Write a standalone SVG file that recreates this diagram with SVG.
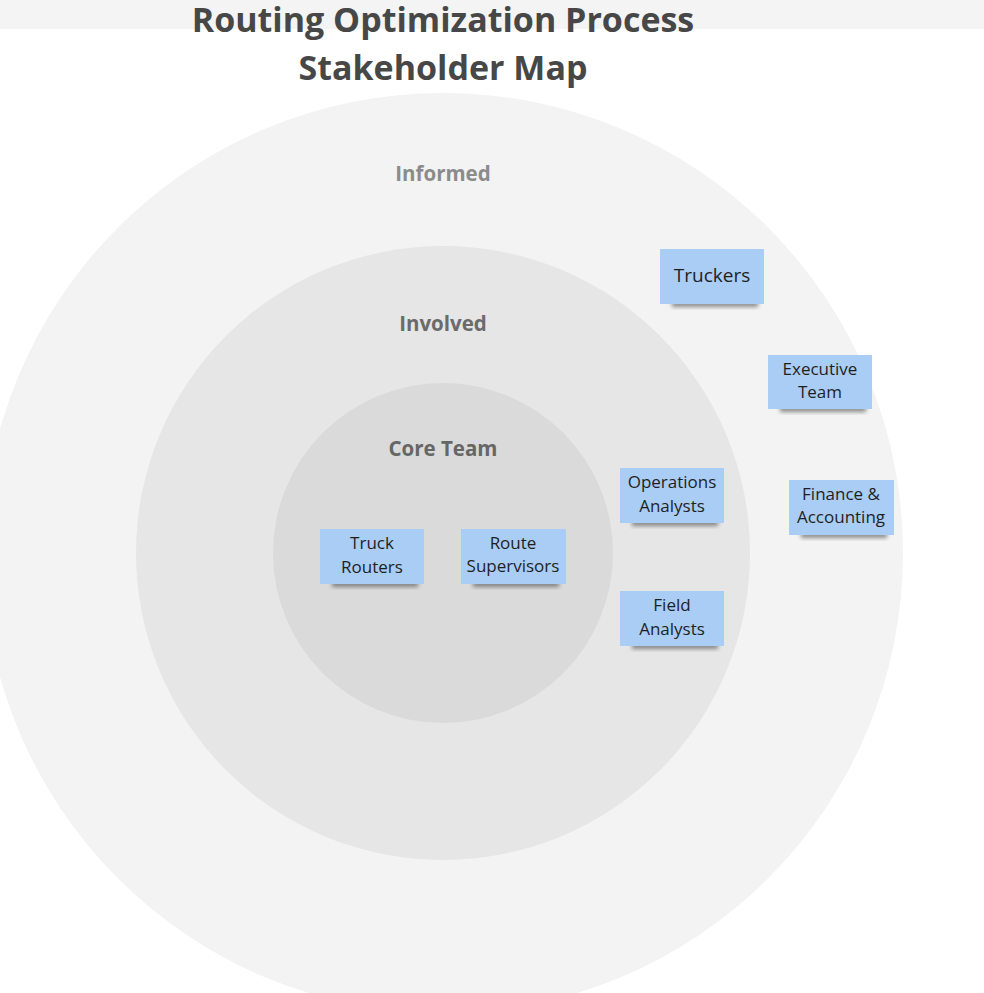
<svg xmlns="http://www.w3.org/2000/svg" width="984" height="993" viewBox="0 0 984 993">
<style>
.title{font-family:"Open Sans",sans-serif;font-weight:700;font-size:34px;fill:#474747;text-anchor:middle}
.ring{font-family:"Open Sans",sans-serif;font-weight:700;font-size:20.5px;text-anchor:middle}
.note rect.n{fill:#a9cdf4}
.note rect.s{fill:#444;opacity:0.6}
.note text{font-family:"Open Sans",sans-serif;font-size:17px;fill:#1f1f1f;text-anchor:middle}
</style>
<defs>
<filter id="sh" x="-20%" y="-50%" width="140%" height="200%">
<feGaussianBlur stdDeviation="2"/>
</filter>
</defs>
<rect x="0" y="0" width="984" height="993" fill="#ffffff"/>
<rect x="0" y="0" width="984" height="29" fill="#f4f4f4"/>
<g id="circles">
<circle cx="443" cy="553" r="460" fill="#f3f3f3"/>
<circle cx="443" cy="553" r="307" fill="#e6e6e6"/>
<circle cx="443" cy="553" r="170" fill="#dadada"/>
</g>
<g id="title">
<text class="title" x="443" y="32">Routing Optimization Process</text>
<text class="title" x="443" y="80">Stakeholder Map</text>
</g>
<g id="labels">
<text class="ring" x="443" y="181" fill="#8b8b8b">Informed</text>
<text class="ring" x="443" y="331" fill="#6b6b6b">Involved</text>
<text class="ring" x="443" y="456" fill="#666666">Core Team</text>
</g>
<g id="truckers" class="note">
<rect class="s" x="672" y="301" width="86" height="6" filter="url(#sh)"/>
<rect class="n" x="660" y="249" width="104" height="55"/>
<text x="712" y="282" style="font-size:19px">Truckers</text>
</g>
<g id="executive" class="note">
<rect class="s" x="780" y="406" width="86" height="6" filter="url(#sh)"/>
<rect class="n" x="768" y="355" width="104" height="54"/>
<text x="820" y="375">Executive</text>
<text x="820" y="398">Team</text>
</g>
<g id="operations" class="note">
<rect class="s" x="632" y="520" width="86" height="6" filter="url(#sh)"/>
<rect class="n" x="620" y="468" width="104" height="55"/>
<text x="672" y="488">Operations</text>
<text x="672" y="512">Analysts</text>
</g>
<g id="finance" class="note">
<rect class="s" x="801" y="532" width="86" height="6" filter="url(#sh)"/>
<rect class="n" x="789" y="480" width="105" height="55"/>
<text x="841" y="500">Finance &amp;</text>
<text x="841" y="523">Accounting</text>
</g>
<g id="field" class="note">
<rect class="s" x="632" y="643" width="86" height="6" filter="url(#sh)"/>
<rect class="n" x="620" y="591" width="104" height="55"/>
<text x="672" y="611">Field</text>
<text x="672" y="635">Analysts</text>
</g>
<g id="truckrouters" class="note">
<rect class="s" x="332" y="581" width="86" height="6" filter="url(#sh)"/>
<rect class="n" x="320" y="529" width="104" height="55"/>
<text x="372" y="549">Truck</text>
<text x="372" y="573">Routers</text>
</g>
<g id="routesupervisors" class="note">
<rect class="s" x="473" y="581" width="86" height="6" filter="url(#sh)"/>
<rect class="n" x="461" y="529" width="105" height="55"/>
<text x="513" y="549">Route</text>
<text x="513" y="572">Supervisors</text>
</g>
<g id="connectors"></g>
</svg>
